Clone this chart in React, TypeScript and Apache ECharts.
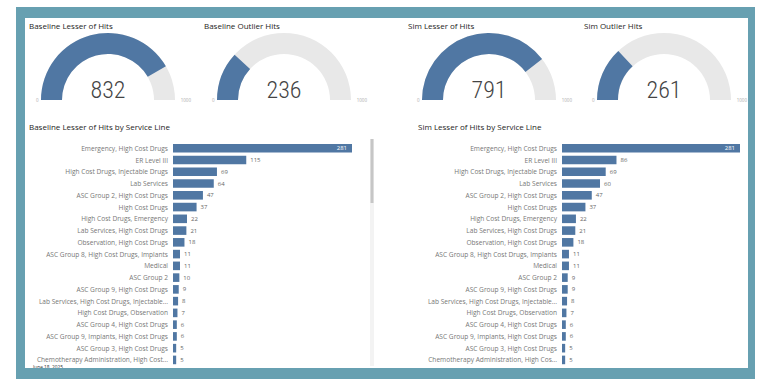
import React, { useEffect, useRef } from "react";
import * as echarts from "echarts";

const gaugeTitles = ["Baseline Lesser of Hits", "Baseline Outlier Hits", "Sim Lesser of Hits", "Sim Outlier Hits"];
const gaugeValues = [832, 236, 791, 261];
const gaugeMin = 0;
const gaugeMax = 1000;

const barTitles = ["Baseline Lesser of Hits by Service Line", "Sim Lesser of Hits by Service Line"];

const baselineCategories = [
  "Emergency, High Cost Drugs",
  "ER Level III",
  "High Cost Drugs, Injectable Drugs",
  "Lab Services",
  "ASC Group 2, High Cost Drugs",
  "High Cost Drugs",
  "High Cost Drugs, Emergency",
  "Lab Services, High Cost Drugs",
  "Observation, High Cost Drugs",
  "ASC Group 8, High Cost Drugs, Implants",
  "Medical",
  "ASC Group 2",
  "ASC Group 9, High Cost Drugs",
  "Lab Services, High Cost Drugs, Injectable...",
  "High Cost Drugs, Observation",
  "ASC Group 4, High Cost Drugs",
  "ASC Group 9, Implants, High Cost Drugs",
  "ASC Group 3, High Cost Drugs",
  "Chemotherapy Administration, High Cost...",
];
const baselineValues = [281, 115, 69, 64, 47, 37, 22, 21, 18, 11, 11, 10, 9, 8, 7, 6, 6, 5, 5];

const simCategories = [
  "Emergency, High Cost Drugs",
  "ER Level III",
  "High Cost Drugs, Injectable Drugs",
  "Lab Services",
  "ASC Group 2, High Cost Drugs",
  "High Cost Drugs",
  "High Cost Drugs, Emergency",
  "Lab Services, High Cost Drugs",
  "Observation, High Cost Drugs",
  "ASC Group 8, High Cost Drugs, Implants",
  "Medical",
  "ASC Group 2",
  "ASC Group 9, High Cost Drugs",
  "Lab Services, High Cost Drugs, Injectable...",
  "High Cost Drugs, Observation",
  "ASC Group 4, High Cost Drugs",
  "ASC Group 9, Implants, High Cost Drugs",
  "ASC Group 3, High Cost Drugs",
  "Chemotherapy Administration, High Cos...",
];
const simValues = [281, 86, 69, 60, 47, 37, 22, 21, 18, 11, 11, 9, 9, 8, 7, 6, 6, 5, 5];

const dateText = "June 18, 2025";

const BLUE = "#5077a3";
const TRACK = "#e8e8e8";
const FRAME = "#67a0b1";
const FONT = "'Segoe UI', 'Open Sans', sans-serif";
const NUM_FONT = "'Roboto Condensed', 'Liberation Sans Narrow', 'Roboto', sans-serif";

export default function App() {
  const ref = useRef<HTMLDivElement>(null);
  useEffect(() => {
    if (!ref.current) return;
    const chart = echarts.init(ref.current, null, { renderer: "svg" });

    const gaugeCenters = [108, 284, 489, 664];
    const gaugeTitleX = [29, 204, 408, 584];

    const gaugeSeries = gaugeValues.map((v, i) => ({
      type: "gauge",
      center: [gaugeCenters[i], 100],
      radius: 67,
      startAngle: 180,
      endAngle: 0,
      min: gaugeMin,
      max: gaugeMax,
      splitNumber: 1,
      progress: { show: true, width: 21, roundCap: false, itemStyle: { color: BLUE } },
      axisLine: { roundCap: false, lineStyle: { width: 21, color: [[1, TRACK]] } },
      pointer: { show: false },
      anchor: { show: false },
      axisTick: { show: false },
      splitLine: { show: false, length: 0, distance: 0 },
      axisLabel: {
        show: true,
        distance: -16,
        verticalAlign: "middle",
        color: "#aaa",
        fontSize: 4.5,
        fontFamily: FONT,
        formatter: (val: number) => (val === gaugeMin ? `{a|${val}}` : `{b|${val}}`),
        rich: {
          a: { fontSize: 4.5, color: "#aaa", fontFamily: FONT, padding: [0, 0, 0, 11] },
          b: { fontSize: 4.5, color: "#aaa", fontFamily: FONT },
        },
      },
      title: { show: false },
      detail: {
        valueAnimation: false,
        offsetCenter: [0, -10],
        fontSize: 24,
        fontWeight: 300,
        fontFamily: NUM_FONT,
        color: "#444",
        formatter: "{value}",
      },
      data: [{ value: v }],
    }));

    const makeBar = (values: number[], idx: number) => ({
      type: "bar",
      xAxisIndex: idx,
      yAxisIndex: idx,
      barWidth: 8.6,
      itemStyle: { color: BLUE },
      data: values.map((v) =>
        v === Math.max(...values)
          ? { value: v, label: { position: "insideRight", color: "#fff", distance: 5 } }
          : v
      ),
      label: {
        show: true,
        position: "right",
        distance: 4,
        color: "#666",
        fontSize: 6,
        fontFamily: FONT,
      },
    });

    const catAxis = (cats: string[], idx: number) => ({
      type: "category",
      gridIndex: idx,
      inverse: true,
      data: cats,
      axisLine: { show: false },
      axisTick: { show: false },
      axisLabel: { color: "#777", fontSize: 6.6, fontFamily: FONT, margin: 5 },
    });

    const valAxis = (idx: number) => ({
      type: "value",
      gridIndex: idx,
      min: 0,
      max: "dataMax",
      show: false,
      splitLine: { show: false },
    });

    const titleStyle = { fontSize: 8, fontWeight: "normal", color: "#252423", fontFamily: FONT };
    const titles = [
      ...gaugeTitles.map((t, i) => ({ text: t, left: gaugeTitleX[i], top: 21, textStyle: titleStyle })),
      { text: barTitles[0], left: 29, top: 122, textStyle: titleStyle },
      { text: barTitles[1], left: 418, top: 122, textStyle: titleStyle },
    ];

    chart.setOption({
      animation: false,
      backgroundColor: "#fff",
      title: titles.map((t) => ({ ...t, padding: 0 })),
      grid: [
        { left: 173, right: 420, top: 142.4, height: 223.4, containLabel: false },
        { left: 562, right: 32, top: 142.4, height: 223.4, containLabel: false },
      ],
      xAxis: [valAxis(0), valAxis(1)],
      yAxis: [catAxis(baselineCategories, 0), catAxis(simCategories, 1)],
      series: [...gaugeSeries, makeBar(baselineValues, 0), makeBar(simValues, 1)],
      graphic: [
        { type: "rect", z: 100, shape: { x: 370, y: 139, width: 4, height: 227 }, style: { fill: "#f3f3f3" } },
        { type: "rect", z: 101, shape: { x: 370.5, y: 139, width: 3, height: 64 }, style: { fill: "#c6c6c6" } },
        { type: "text", z: 102, x: 33, y: 364, style: { text: dateText, fontSize: 4.8, fill: "#333", fontFamily: FONT } },
        { type: "rect", z: 200, shape: { x: 16, y: 7, width: 739, height: 11 }, style: { fill: FRAME } },
        { type: "rect", z: 200, shape: { x: 16, y: 368, width: 739, height: 11 }, style: { fill: FRAME } },
        { type: "rect", z: 200, shape: { x: 16, y: 7, width: 9, height: 372 }, style: { fill: FRAME } },
        { type: "rect", z: 200, shape: { x: 748, y: 7, width: 7, height: 372 }, style: { fill: FRAME } },
      ],
    });
    return () => chart.dispose();
  }, []);
  return <div ref={ref} style={{ position: "fixed", left: 0, top: 0, width: 772, height: 387 }} />;
}
